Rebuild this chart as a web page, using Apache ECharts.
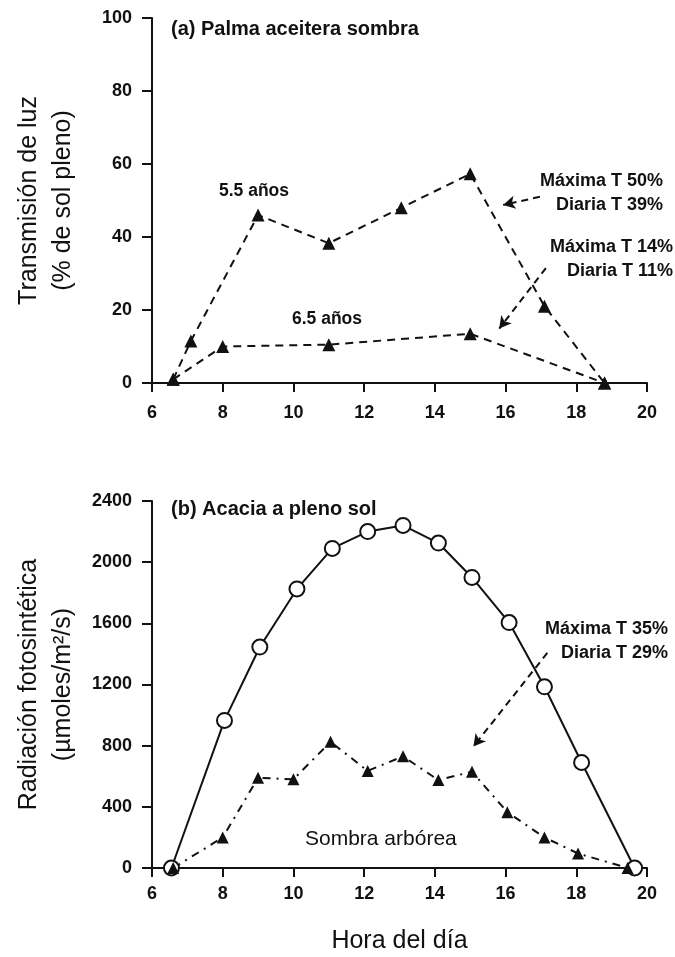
<!DOCTYPE html>
<html>
<head>
<meta charset="utf-8">
<script src="https://cdn.jsdelivr.net/npm/echarts@6/dist/echarts.min.js"></script>
<style>
  html, body { margin: 0; padding: 0; background: #fff; }
  #chart { width: 675px; height: 957px; }
</style>
</head>
<body>
<div id="chart"></div>
<script>
// (a) palma aceitera, transmision (%)
const hours55 = [6.6, 7.1, 9.0, 11.0, 13.05, 15.0, 17.1, 18.8]
const trans55 = [1, 11.5, 46, 38.3, 48, 57.3, 21, 0]
const hours65 = [6.6, 8.0, 11.0, 15.0, 18.8]
const trans65 = [1, 10, 10.5, 13.5, 0]

// (b) acacia, radiacion (umoles/m2/s)
const hoursSol = [6.55, 8.05, 9.05, 10.1, 11.1, 12.1, 13.1, 14.1, 15.05, 16.1, 17.1, 18.15, 19.65]
const radSol = [0, 965, 1445, 1825, 2090, 2200, 2240, 2125, 1900, 1605, 1185, 690, 0]
const hoursSombra = [6.6, 8.0, 9.0, 10.0, 11.05, 12.1, 13.1, 14.1, 15.05, 16.05, 17.1, 18.05, 19.45]
const radSombra = [0, 200, 590, 580, 825, 635, 730, 575, 630, 365, 200, 95, 0]

const xTicks = { min: 6, max: 20, interval: 2 }
const yTicksA = { min: 0, max: 100, interval: 20 }
const yTicksB = { min: 0, max: 2400, interval: 400 }

// flechas de las anotaciones [desde, hasta]
const arrowA1 = [[16.97, 51.0], [15.93, 48.8]]
const arrowA2 = [[17.14, 31.5], [15.82, 14.9]]
const arrowB1 = [[17.18, 1407], [15.09, 794]]

const pairs = (xs, ys) => xs.map((x, i) => [x, ys[i]])

const font = 'Liberation Sans, Arial, Helvetica, sans-serif'
const black = '#111'

function xAxis(gridIndex, name) {
    return {
        type: 'value', gridIndex: gridIndex,
        min: xTicks.min, max: xTicks.max, interval: xTicks.interval,
        name: name || '',
        nameLocation: 'middle',
        nameGap: 61,
        nameTextStyle: { color: black, fontSize: 25, fontFamily: font },
        axisLine: { show: true, onZero: false, lineStyle: { color: black, width: 2 } },
        axisTick: { show: true, inside: false, length: 9, lineStyle: { color: black, width: 2 } },
        axisLabel: { color: black, fontSize: 18, fontWeight: 'bold', fontFamily: font, margin: gridIndex ? 17 : 21 },
        splitLine: { show: false }
    }
}
function yAxis(gridIndex, t, name) {
    return {
        type: 'value', gridIndex: gridIndex,
        min: t.min, max: t.max, interval: t.interval,
        name: name,
        nameLocation: 'middle',
        nameRotate: 90,
        nameGap: 72,
        nameTextStyle: { color: black, fontSize: 25, lineHeight: 34, fontFamily: font },
        axisLine: { show: true, lineStyle: { color: black, width: 2 } },
        axisTick: { show: true, inside: false, length: 10, lineStyle: { color: black, width: 2 } },
        axisLabel: {
            color: black, fontSize: 18, fontWeight: 'bold', fontFamily: font, margin: 20,
            formatter: v => String(v)
        },
        splitLine: { show: false }
    }
}
function arrow(a) {
    return {
        silent: true,
        symbol: ['none', 'arrow'],
        symbolSize: [10, 12],
        label: { show: false },
        lineStyle: { color: black, width: 2, type: [7, 5] },
        data: [[{ coord: a[0] }, { coord: a[1] }]]
    }
}
function text(x, y, str, size, weight) {
    return {
        type: 'text', left: x, top: y - size * 0.45,
        style: { text: str, fill: black, fontSize: size, fontWeight: weight || 'bold', fontFamily: font }
    }
}
function rtext(right, y, str) {
    return {
        type: 'text', right: 675 - right, top: y - 10,
        style: { text: str, fill: black, fontSize: 18, fontWeight: 'bold', fontFamily: font }
    }
}

const chart = echarts.init(document.getElementById('chart'))
chart.setOption({
    animation: false,
    backgroundColor: '#fff',
    grid: [
        { left: 152, right: 28, top: 18, height: 365 },
        { left: 152, right: 28, top: 501, height: 367 }
    ],
    xAxis: [xAxis(0), xAxis(1, 'Hora del día')],
    yAxis: [
        yAxis(0, yTicksA, 'Transmisión de luz\n(% de sol pleno)'),
        yAxis(1, yTicksB, 'Radiación fotosintética\n(µmoles/m²/s)')
    ],
    series: [
        {
            type: 'line', xAxisIndex: 0, yAxisIndex: 0,
            data: pairs(hours55, trans55),
            symbol: 'triangle', symbolSize: 13,
            itemStyle: { color: black },
            lineStyle: { color: black, width: 2, type: [8, 6] },
            markLine: arrow(arrowA1)
        },
        {
            type: 'line', xAxisIndex: 0, yAxisIndex: 0,
            data: pairs(hours65, trans65),
            symbol: 'triangle', symbolSize: 13,
            itemStyle: { color: black },
            lineStyle: { color: black, width: 2, type: [8, 6] },
            markLine: arrow(arrowA2)
        },
        {
            type: 'line', xAxisIndex: 1, yAxisIndex: 1,
            data: pairs(hoursSol, radSol),
            symbol: 'circle', symbolSize: 15,
            itemStyle: { color: '#fff', borderColor: black, borderWidth: 2 },
            lineStyle: { color: black, width: 2 }
        },
        {
            type: 'line', xAxisIndex: 1, yAxisIndex: 1,
            data: pairs(hoursSombra, radSombra),
            symbol: 'triangle', symbolSize: 12,
            itemStyle: { color: black },
            lineStyle: { color: black, width: 2, type: [8, 6, 2, 6] },
            markLine: arrow(arrowB1)
        }
    ],
    graphic: [
        text(171, 28, '(a) Palma aceitera sombra', 20),
        text(171, 508, '(b) Acacia a pleno sol', 20),
        text(219, 190, '5.5 años', 17.5),
        text(292, 318, '6.5 años', 17.5),
        rtext(663, 182, 'Máxima T 50%'),
        rtext(663, 206, 'Diaria T 39%'),
        rtext(673, 248, 'Máxima T 14%'),
        rtext(673, 272, 'Diaria T 11%'),
        rtext(668, 630, 'Máxima T 35%'),
        rtext(668, 654, 'Diaria T 29%'),
        text(305, 838, 'Sombra arbórea', 21, 'normal')
    ]
})
</script>
</body>
</html>
